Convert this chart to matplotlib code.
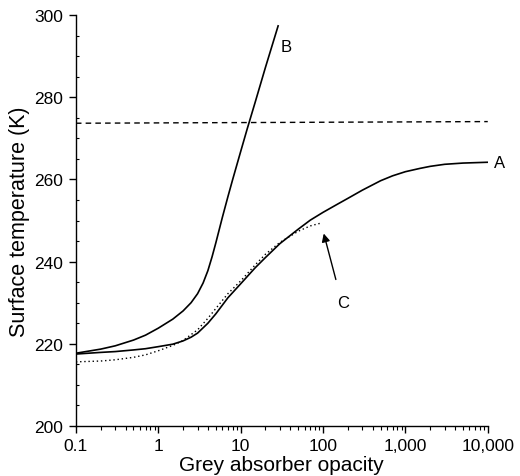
import matplotlib
matplotlib.use("Agg")
import matplotlib.pyplot as plt
from matplotlib.ticker import FixedLocator, LogLocator, NullFormatter, MultipleLocator

plt.rcParams['font.family'] = ['Liberation Sans', 'DejaVu Sans']

# Curve A (solid)
a_x = [0.1, 0.2, 0.3, 0.5, 0.7, 1, 1.5, 2, 2.5, 3, 4, 5, 7, 10, 15, 20, 30, 50, 70,
       100, 150, 200, 300, 500, 700, 1000, 1500, 2000, 3000, 5000, 10000]
a_t = [217.5, 217.9, 218.1, 218.5, 218.8, 219.3, 219.9, 220.7, 221.6, 222.6, 225.0, 227.3,
       231.2, 234.6, 238.5, 241.0, 244.4, 247.9, 250.1, 252.0, 254.0, 255.4, 257.4, 259.7,
       260.9, 261.9, 262.7, 263.2, 263.7, 264.0, 264.2]

# Curve B (solid, steep)
b_x = [0.1, 0.2, 0.3, 0.5, 0.7, 1, 1.5, 2, 2.5, 3, 3.5, 4, 4.5, 5, 6, 7, 8, 10, 12, 15, 20, 28.5]
b_t = [217.7, 218.7, 219.5, 220.9, 222.1, 223.8, 226.0, 228.0, 230.0, 232.2, 234.8, 237.8,
       241.2, 244.6, 250.8, 255.8, 260.0, 266.8, 272.3, 278.8, 287.3, 297.4]

# Curve C (dotted)
c_x = [0.1, 0.2, 0.3, 0.5, 0.7, 1, 1.5, 2, 3, 4, 5, 7, 10, 15, 20, 30, 50, 70, 95]
c_t = [215.6, 215.8, 216.1, 216.7, 217.3, 218.3, 219.6, 220.8, 223.4, 226.2, 228.6, 232.2,
       235.3, 239.2, 241.8, 244.7, 247.4, 248.7, 249.4]

# Dashed reference line
d_x = [0.1, 10000]
d_t = [273.7, 274.1]

x_ticks = [0.1, 1, 10, 100, 1000, 10000]
x_labels = ['0.1', '1', '10', '100', '1,000', '10,000']
y_ticks = [200, 220, 240, 260, 280, 300]

fig = plt.figure(figsize=(5.2, 4.77), dpi=100)
ax = fig.add_axes([0.146, 0.105, 0.792, 0.861])

ax.plot(a_x, a_t, color='black', lw=1.2)
ax.plot(b_x, b_t, color='black', lw=1.2)
ax.plot(c_x, c_t, color='black', lw=1.0, ls=(0, (1, 2)))
ax.plot(d_x, d_t, color='black', lw=1.0, ls=(0, (4, 3)))

ax.set_xscale('log')
ax.set_xlim(0.1, 10000)
ax.set_ylim(200, 300)
ax.xaxis.set_major_locator(FixedLocator(x_ticks))
ax.set_xticklabels(x_labels)
ax.xaxis.set_minor_locator(LogLocator(base=10, subs=range(2, 10)))
ax.xaxis.set_minor_formatter(NullFormatter())
ax.yaxis.set_major_locator(FixedLocator(y_ticks))
ax.yaxis.set_minor_locator(MultipleLocator(5))

for s in ['top', 'right']:
    ax.spines[s].set_visible(False)
for s in ['left', 'bottom']:
    ax.spines[s].set_linewidth(1.0)

ax.tick_params(axis='both', which='major', direction='out', length=5, width=1, labelsize=12.5, pad=4)
ax.tick_params(axis='x', which='minor', direction='out', length=3, width=0.8)
ax.tick_params(axis='y', which='minor', direction='in', length=2, width=0.8)

ax.set_xlabel('Grey absorber opacity', fontsize=15, labelpad=1)
ax.set_ylabel('Surface temperature (K)', fontsize=15.5, labelpad=3)

ax.text(14000, 264.2, 'A', fontsize=12, ha='center', va='center', clip_on=False)
ax.text(36, 292.5, 'B', fontsize=12, ha='center', va='center')
ax.text(175, 230, 'C', fontsize=12, ha='center', va='center')
ax.annotate('', xy=(100, 247.5), xytext=(146, 235.0),
            arrowprops=dict(arrowstyle='-|>', color='black', lw=1.0, mutation_scale=12))

fig.savefig('out.png', dpi=100)
